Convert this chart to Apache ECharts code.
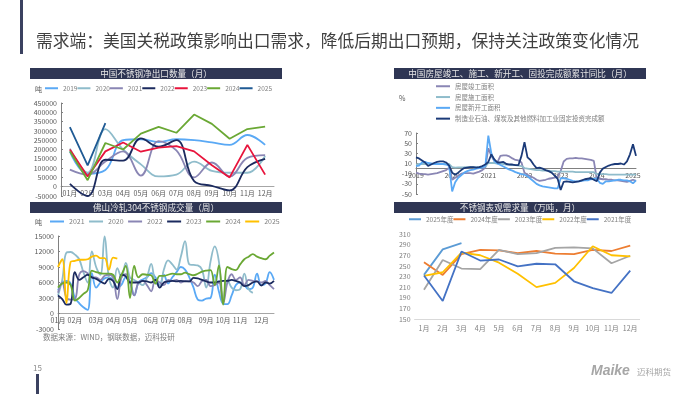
<!DOCTYPE html>
<html>
<head>
<meta charset="utf-8">
<style>
  html, body { margin: 0; padding: 0; background: #fff; }
  .layer { position: absolute; left: 0; top: 0; width: 700px; height: 394px; }
</style>
<script src="https://cdn.jsdelivr.net/npm/echarts@6/dist/echarts.min.js"></script>
</head>
<body>
<div class="layer" id="page"></div>
<div class="layer" id="export"></div>
<div class="layer" id="foshan"></div>
<div class="layer" id="house"></div>
<div class="layer" id="demand"></div>
<script>
const FONT = '"Noto Sans CJK SC", "Noto Sans", sans-serif';
const TEXT = '#595959';

// 中国不锈钢净出口数量（月）
const exportMonths = ['01月', '02月', '03月', '04月', '05月', '06月', '07月', '08月', '09月', '10月', '11月', '12月'];
const export2019 = [190000, 70000, 90000, 250000, 255000, 240000, 255000, 250000, 238000, 225000, 278000, 225000];
const export2020 = [205000, 75000, 310000, 200000, 120000, 55000, 65000, 135000, 85000, 75000, 75000, 165000];
const export2021 = [92000, 65000, 135000, 190000, 60000, 245000, 195000, 50000, 130000, 55000, 155000, 170000];
const export2022 = [15000, -50000, 145000, 140000, 260000, 215000, 250000, 30000, 5000, -20000, 105000, 150000];
const export2023 = [200000, 55000, 190000, 238000, 188000, 210000, 218000, 190000, 115000, 50000, 225000, 65000];
const export2024 = [190000, 35000, 235000, 200000, 285000, 322000, 290000, 388000, 338000, 258000, 310000, 323000];
const export2025 = [320000, 115000, 342000];

// 佛山冷轧304不锈钢成交量（周）
const weekLabels = ['01月', '', '', '', '02月', '', '', '', '', '03月', '', '', '', '04月', '', '', '', '05月', '', '', '', '', '06月', '', '', '', '07月', '', '', '', '08月', '', '', '', '', '09月', '', '', '', '10月', '', '', '', '11月', '', '', '', '', '12月', '', '', ''];
const week2021 = [4500, 6000, 6300, 5800, 3000, 2000, 1200, 700, 7800, 5000, 6000, 6800, 7000,
  6500, 5000, 5600, 7000, 6200, 3500, 6000, 6600, 7000, 7800, 7000, 5500, 7500,
  5800, 7000, 8000, 9000, 8500, 7000, 5000, 2700, 2500, 2900, 3000, 7500, 4200,
  1900, 1800, 3500, 5500, 6000, 5500, 4700, 5000, 7700, 5500, 5800, 8000, 6500];
const week2020 = [3500, 6500, 11800, 11900, 11400, 10500, 8000, 6000, 12000, 9000, 7500, 14900, 7000,
  5000, 8800, 7000, 9800, 7000, 6500, 6000, 5500, 7000, 9600, 6000, 5500, 8500,
  10300, 9500, 8500, 11000, 14000, 9500, 9400, 9300, 8500, 5000, 10000, 13000, 10000,
  2000, 6500, 5000, 4500, 4700, 7700, 4700, 4000];
const week2022 = [4000, 6000, 3000, 2700, 2800, 7500, 8200, 7800, 7000, 7000, 6500, 7300, 7500,
  7000, 2800, 7000, 7600, 6000, 3500, 6000, 6300, 5500, 4300, 6500, 6000, 5500,
  6500, 6300, 6500, 6000, 6300, 6200, 6000, 5300, 6300, 6500, 5300, 5500, 6000,
  2000, 6000, 7600, 6500, 7000, 5500, 6500, 6300, 6200, 6000, 6300, 5500, 4700];
const week2023 = [3500, 2800, 1700, 1900, 8000, 6500, 7000, 7500, 7000, 6700, 6200, 5800, 6700,
  6300, 4700, 7500, 7200, 6000, 6000, 6000, 6300, 6200, 6000, 6500, 5000, 6000,
  6200, 6300, 6200, 6300, 6200, 6200, 6900, 6800, 6500, 6200, 6000, 6000, 6200,
  6300, 6300, 6500, 6300, 6000, 5300, 5500, 6000, 6200, 5400, 6000, 5800, 6300];
const week2024 = [5000, 5800, 6000, 5500, 2500, 3000, 3800, 4500, 8300, 8000, 7800, 7700, 7700,
  7500, 6000, 7500, 9200, 3000, 9200, 7000, 7600, 7500, 7400, 5800, 7300, 7300,
  7500, 7700, 7600, 7600, 7900, 7600, 7400, 7700, 8100, 8300, 8400, 5500, 9300,
  1700, 9000, 8600, 8400, 9500, 10500, 11000, 11500, 11000, 10700, 10500, 11200, 11800];
const week2025 = [9000, 10500, 2000, 10000, 10200, 10400, 10400, 10500, 11000, 11200, 10700, 10700, 8500, 10800, 10600];

// 中国房屋竣工、施工、新开工、固投完成额累计同比（月）
const houseYears = ['2019', '', '', '', '', '', '', '', '', '', '', '',
  '2020', '', '', '', '', '', '', '', '', '', '', '',
  '2021', '', '', '', '', '', '', '', '', '', '', '',
  '2022', '', '', '', '', '', '', '', '', '', '', '',
  '2023', '', '', '', '', '', '', '', '', '', '', '',
  '2024', '', '', '', '', '', '', '', '', '', '', '',
  '2025', ''];
const houseDone = [-8, -10, -11, -11, -12, -11, -10, -9, -7, -5, -3, 2,
  -22, -18, -14, -10, -9, -9, -9, -10, -8, -6, -3, 2,
  40, 25, 15, 12, 25, 26, 26, 24, 20, 17, 16, 12,
  -8, -12, -15, -18, -22, -24, -23, -22, -20, -19, -18, -16,
  -5, 14, 19, 20, 20, 21, 20, 20, 19, 18, 17, 15,
  -20, -20, -21, -21, -22, -22, -23, -23, -24, -25, -26, -24,
  -22, -24];
const houseBuild = [8, 9, 9, 9, 9, 9, 9, 9, 9, 9, 9, 9,
  3, 2, 2.5, 2.5, 2.6, 3, 3, 3, 3, 3, 3, 4,
  11, 11, 11, 10, 10, 9, 8, 8, 7, 7, 6, 5,
  1, 0, -1, -2, -3, -3, -4, -4, -4, -5, -5, -6,
  -6, -6, -6, -6, -6, -7, -7, -7, -7, -7, -7, -7,
  -11, -11, -11, -11, -12, -12, -12, -12, -12, -12, -12, -12,
  -12, -12];
const houseStart = [5, 6, 12, 13, 11, 10, 9, 9, 9, 9, 8, 5,
  -45, -27, -18, -13, -8, -5, -3, -2, 0, 1, 2, 5,
  65, 30, 15, 10, 7, 4, 1, -2, -4, -7, -9, -11,
  -12, -15, -20, -25, -30, -33, -35, -36, -37, -38, -39, -39,
  -19, -19, -20, -22, -24, -25, -25, -24, -23, -23, -21, -20,
  -20, -28, -30, -25, -25, -24, -23, -22, -22, -23, -23, -25,
  -29, -23];
const houseInvest = [22, 20, 16, 12, 5, 8, 11, 13, 14, 14, 12, 6,
  -8, -12, -8, -3, 1, 2, 3, 3, 2, 3, 5, 8,
  13, 28, 18, 12, 12, 13, 9, 8, 8, 7, 7, 25,
  52, 22, 17, 8, 1, 2, 0, -3, -5, -8, -14, -20,
  -42, -26, -25, -26, -27, -26, -25, -23, -21, -20, -19, -22,
  -25, -8, 0, 3, 6, 8, 9, 9, 10, 8, 14, 28,
  48, 25];
const houseTicks = [-50, -30, -10, 10, 30, 50, 70];

// 不锈钢表观需求量（万吨，月）
const demandMonths = ['1月', '2月', '3月', '4月', '5月', '6月', '7月', '8月', '9月', '10月', '11月', '12月'];
const demand2025 = [233, 281, 293];
const demand2024 = [257, 233, 272, 280, 279, 274, 278, 273, 272, 280, 278, 288];
const demand2023 = [205, 261, 245, 244, 280, 272, 274, 284, 285, 283, 255, 269];
const demand2022 = [231, 238, 275, 270, 256, 235, 210, 218, 246, 287, 270, 268];
const demand2021 = [232, 184, 277, 260, 262, 249, 254, 253, 221, 208, 199, 241];
const demandTicks = [150, 170, 190, 210, 230, 250, 270, 290, 310];

function line(name, data, color, smooth) {
  return { name, type: 'line', data, smooth: smooth ? 0.4 : false, symbol: 'none',
    lineStyle: { width: 1.8, color }, itemStyle: { color } };
}

function legend(left, top, width, gap, size) {
  return { left, top, padding: 0, icon: 'rect', itemWidth: width, itemHeight: 2, itemGap: gap, selectedMode: false,
    textStyle: { color: '#808080', fontSize: size, fontFamily: FONT } };
}

function axisLabel() {
  return { color: TEXT, fontSize: 7, fontFamily: FONT, margin: 3, interval: 0, hideOverlap: false };
}

function valueLabel() {
  return { color: TEXT, fontSize: 7, fontFamily: FONT, margin: 4, formatter: v => String(v) };
}

function draw(id, option) {
  const chart = echarts.init(document.getElementById(id), null, { renderer: 'canvas' });
  chart.setOption(Object.assign({ animation: false, backgroundColor: 'transparent' }, option));
}

// title bars and page furniture
const bars = [
  { x: 30, y: 68, w: 252, h: 11, text: '中国不锈钢净出口数量（月）' },
  { x: 30, y: 202, w: 252, h: 11, text: '佛山冷轧304不锈钢成交量（周）' },
  { x: 394, y: 68, w: 252, h: 11, text: '中国房屋竣工、施工、新开工、固投完成额累计同比（月）' },
  { x: 394, y: 202, w: 252, h: 11, text: '不锈钢表观需求量（万吨，月）' }
];
const pageText = (x, y, text, size, color, extra) => ({ type: 'text', x, y,
  style: Object.assign({ text, fontSize: size, fill: color, fontFamily: FONT, verticalAlign: 'middle' }, extra) });
draw('page', {
  graphic: [
    { type: 'rect', shape: { x: 20, y: 0, width: 3, height: 54 }, style: { fill: '#3b4160' } },
    pageText(36, 41, '需求端：美国关税政策影响出口需求，降低后期出口预期，保持关注政策变化情况', 16.75, '#404040'),
    pageText(35, 89, '吨', 7, TEXT),
    pageText(35, 222, '吨', 7, TEXT),
    pageText(399, 98, '%', 7, TEXT),
    pageText(43, 337, '数据来源：WIND，钢联数据，迈科投研', 7.5, '#7f7f7f'),
    pageText(33, 368, '15', 8, '#8c8c8c'),
    { type: 'rect', shape: { x: 36, y: 374, width: 3, height: 20 }, style: { fill: '#3b4160' } },
    pageText(591, 371, 'Maike', 14, '#a6a6a6', { fontFamily: '"Liberation Sans"', fontWeight: 'bold', fontStyle: 'italic' }),
    pageText(637, 372, '迈科期货', 8.5, '#a6a6a6')
  ].concat(bars.flatMap(b => [
    { type: 'rect', shape: { x: b.x, y: b.y, width: b.w, height: b.h }, style: { fill: '#2f3654' } },
    pageText(b.x + b.w / 2, b.y + b.h / 2, b.text, 8.6, '#e6e6e6', { align: 'center' })
  ]))
});

draw('export', {
  legend: legend(45, 85, 13, 0, 6.5),
  grid: { left: 61, top: 103, width: 213, height: 93 },
  xAxis: { type: 'category', data: exportMonths, offset: -9.3, axisLabel: axisLabel(),
    axisLine: { onZero: false, lineStyle: { color: '#a6a6a6' } }, axisTick: { show: false } },
  yAxis: { type: 'value', min: -50000, max: 450000, interval: 50000, splitLine: { show: false },
    axisLabel: valueLabel(), axisLine: { show: true, lineStyle: { color: '#808080' } }, axisTick: { show: true, length: 2, inside: true } },
  series: [
    line('2019', export2019, '#5aa9f5', true),
    line('2020', export2020, '#8fbccb', true),
    line('2021', export2021, '#8a86b4', true),
    line('2022', export2022, '#1b2a5e', true),
    line('2023', export2023, '#e8143c', false),
    line('2024', export2024, '#6aa834', false),
    line('2025', export2025, '#1f5a94', false)
  ]
});

draw('foshan', {
  legend: legend(50, 218, 14, 4.5, 7),
  grid: { left: 58, top: 236, width: 216, height: 93 },
  xAxis: { type: 'category', data: weekLabels, boundaryGap: false, offset: -15.5, axisLabel: axisLabel(),
    axisLine: { onZero: false, lineStyle: { color: '#a6a6a6' } }, axisTick: { show: false } },
  yAxis: { type: 'value', min: -3000, max: 15000, interval: 3000, splitLine: { show: false },
    axisLabel: valueLabel(), axisLine: { show: true, lineStyle: { color: '#808080' } }, axisTick: { show: true, length: 2, inside: true } },
  series: [
    line('2021', week2021, '#5aa9f5', true),
    line('2020', week2020, '#8fbccb', true),
    line('2022', week2022, '#8a86b4', true),
    line('2023', week2023, '#1b2a5e', true),
    line('2024', week2024, '#6aa834', true),
    line('2025', week2025, '#ffc000', true)
  ]
});

draw('house', {
  legend: Object.assign(legend(436, 83, 14, 4.3, 6.5), { orient: 'vertical' }),
  grid: { left: 416, top: 133, width: 220, height: 61 },
  xAxis: { type: 'category', data: houseYears, boundaryGap: false, offset: -25.4, axisLabel: axisLabel(),
    axisLine: { onZero: false, lineStyle: { color: '#808080' } }, axisTick: { show: false } },
  yAxis: { type: 'value', min: -50, max: 70, splitLine: { show: false },
    axisLabel: Object.assign(valueLabel(), { customValues: houseTicks }),
    axisLine: { show: true, lineStyle: { color: '#808080' } },
    axisTick: { show: true, length: 2, inside: true, customValues: houseTicks } },
  series: [
    line('房屋竣工面积', houseDone, '#8a86b4', false),
    line('房屋施工面积', houseBuild, '#8fbccb', false),
    line('房屋新开工面积', houseStart, '#5aa9f5', false),
    line('制造业石油、煤炭及其他燃料加工业固定投资完成额', houseInvest, '#1b3a78', false)
  ]
});

draw('demand', {
  legend: legend(409, 216, 12, 0, 6.5),
  grid: { left: 414.6, top: 234, width: 225, height: 85 },
  xAxis: { type: 'category', data: demandMonths,
    axisLabel: Object.assign(axisLabel(), { margin: 6, color: '#7f7f7f' }),
    axisLine: { lineStyle: { color: '#d9d9d9' } }, axisTick: { show: false } },
  yAxis: { type: 'value', min: 150, max: 310, splitLine: { show: false },
    axisLabel: Object.assign(valueLabel(), { color: '#7f7f7f', customValues: demandTicks }),
    axisLine: { show: false }, axisTick: { show: false } },
  series: [
    line('2025年度', demand2025, '#5b9bd5', false),
    line('2024年度', demand2024, '#ed7d31', false),
    line('2023年度', demand2023, '#a5a5a5', false),
    line('2022年度', demand2022, '#ffc000', false),
    line('2021年度', demand2021, '#4472c4', false)
  ]
});
</script>
</body>
</html>
